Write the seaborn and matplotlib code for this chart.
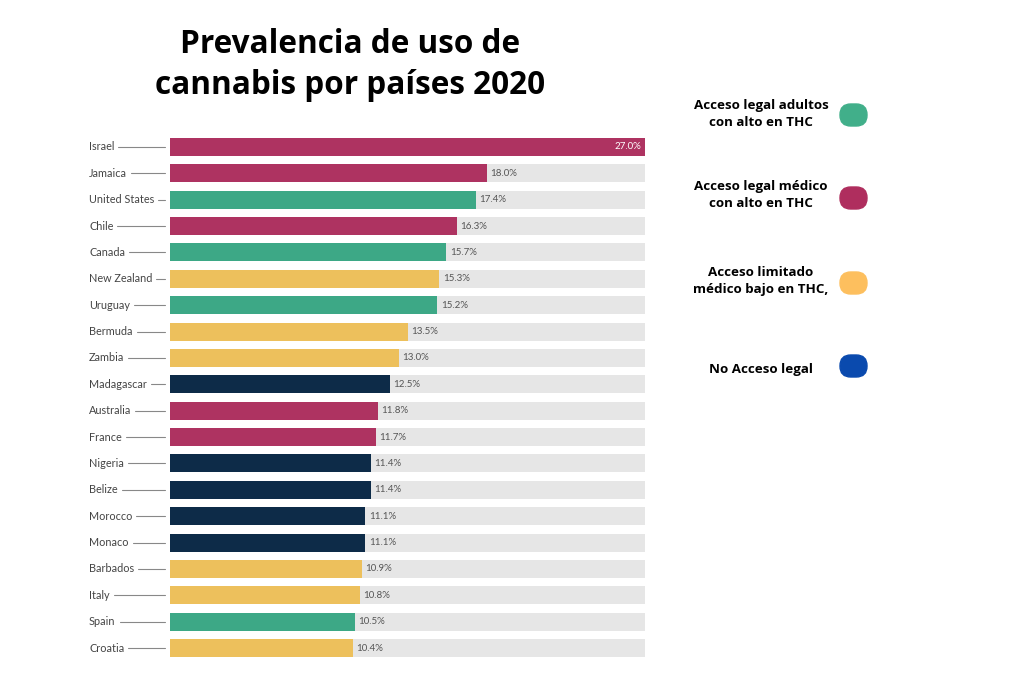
import numpy as np
import pandas as pd
import matplotlib
matplotlib.use("Agg")
import matplotlib.pyplot as plt
import seaborn as sns
from matplotlib.patches import FancyBboxPatch
from matplotlib.lines import Line2D

# =========================================================
# DATA
# =========================================================

countries = ["Israel", "Jamaica", "United States", "Chile", "Canada",
             "New Zealand", "Uruguay", "Bermuda", "Zambia", "Madagascar",
             "Australia", "France", "Nigeria", "Belize", "Morocco",
             "Monaco", "Barbados", "Italy", "Spain", "Croatia"]
values = [27.0, 18.0, 17.4, 16.3, 15.7, 15.3, 15.2, 13.5, 13.0, 12.5,
          11.8, 11.7, 11.4, 11.4, 11.1, 11.1, 10.9, 10.8, 10.5, 10.4]
access = ["med", "med", "adult", "med", "adult", "lim", "adult", "lim", "lim", "no",
          "med", "med", "no", "no", "no", "no", "lim", "lim", "adult", "lim"]

legend_labels = ["Acceso legal adultos\ncon alto en THC",
                 "Acceso legal médico\ncon alto en THC",
                 "Acceso limitado\nmédico bajo en THC,",
                 "No Acceso legal"]

bar_colors = {"adult": "#3DA886", "med": "#AE3361", "lim": "#EDC05C", "no": "#0D2B48"}
legend_colors = ["#41AF8A", "#AF2E5E", "#FDBF5E", "#0A4AAE"]

MAX_VAL = 27.0
W, H = 1024, 683

df = pd.DataFrame({"country": countries, "value": values, "access": access})
df["track"] = MAX_VAL

# =========================================================
# PLOT
# =========================================================

sns.set_style("white")
fig = plt.figure(figsize=(W / 100, H / 100), dpi=100)
ax = fig.add_axes([170 / W, 1 - 661.2 / H, 475 / W, (661.2 - 133.8) / H])

sns.barplot(data=df, x="track", y="country", color="#E6E6E6",
            width=0.68, ax=ax, saturation=1, linewidth=0)
sns.barplot(data=df, x="value", y="country", hue="access",
            palette=bar_colors, dodge=False, width=0.68, ax=ax,
            saturation=1, legend=False, linewidth=0)

ax.set_xlim(0, MAX_VAL)
ax.set_ylim(len(countries) - 0.5, -0.5)
ax.axis("off")

for i, v in enumerate(values):
    if v >= MAX_VAL:
        ax.text(v - 0.2, i, f"{v:.1f}%", ha="right", va="center",
                color="white", fontsize=7, family="Lato")
    else:
        ax.text(v + 0.2, i, f"{v:.1f}%", ha="left", va="center",
                color="#555555", fontsize=7, family="Lato")

# country labels with leader lines
fig.canvas.draw()
renderer = fig.canvas.get_renderer()
for i, c in enumerate(countries):
    y_disp = ax.transData.transform((0, i))[1]
    y_fig = y_disp / H
    t = fig.text(89 / W, y_fig, c, ha="left", va="center",
                 fontsize=7.8, color="#444444", family="Lato")
    bb = t.get_window_extent(renderer)
    fig.add_artist(Line2D([(bb.x1 + 4) / W, 165 / W], [y_fig, y_fig],
                          color="#888888", lw=0.8))

# title
fig.text(350 / W, 1 - 65 / H, "Prevalencia de uso de\ncannabis por países 2020",
         ha="center", va="center", fontsize=22.7, fontweight="bold",
         family="Open Sans", linespacing=1.35, color="black")

# legend
leg_text_y = [114, 195, 281, 369]
leg_blob_y = [115, 198, 283, 366]
for lab, col, ty, by in zip(legend_labels, legend_colors, leg_text_y, leg_blob_y):
    fig.text(761 / W, 1 - ty / H, lab, ha="center", va="center",
             fontsize=9.6, fontweight="bold", family="Open Sans",
             linespacing=1.35, color="black")
    blob = FancyBboxPatch((840 / W, 1 - (by + 11) / H), 27 / W, 22 / H,
                          boxstyle="round,pad=0,rounding_size=0.0105",
                          transform=fig.transFigure, color=col,
                          mutation_aspect=W / H)
    fig.add_artist(blob)

fig.savefig("out.png", dpi=100)
